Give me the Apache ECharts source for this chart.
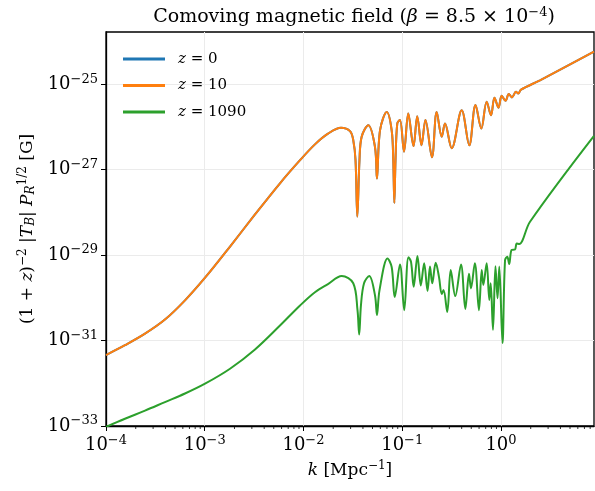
<!DOCTYPE html>
<html><head><meta charset="utf-8">
<script src="https://cdn.jsdelivr.net/npm/echarts@6/dist/echarts.min.js"></script>
<style>html,body{margin:0;padding:0;background:#fff}#c{width:595px;height:491px}</style>
</head><body><div id="c"></div>
<script>
// log10(k / Mpc^-1) and log10(B / G)
const logK_z10 = [-4.000,-3.808,-3.605,-3.403,-3.200,-2.997,-2.744,-2.491,-2.238,-2.035,-1.884,-1.752,-1.620,-1.529,-1.496,-1.473,-1.455,-1.433,-1.411,-1.344,-1.276,-1.256,-1.225,-1.157,-1.107,-1.091,-1.080,-1.068,-1.050,-1.023,-0.982,-0.939,-0.886,-0.848,-0.805,-0.765,-0.699,-0.651,-0.600,-0.567,-0.499,-0.398,-0.321,-0.258,-0.199,-0.145,-0.101,-0.066,-0.025,0.007,0.046,0.079,0.111,0.152,0.175,0.203,0.395,0.942];
const logB_z10 = [-31.34,-31.11,-30.84,-30.51,-30.06,-29.53,-28.80,-28.05,-27.32,-26.78,-26.41,-26.16,-26.02,-26.10,-26.31,-26.78,-28.10,-26.78,-26.23,-25.96,-26.47,-27.21,-26.08,-25.65,-26.08,-26.78,-27.78,-26.78,-25.92,-25.84,-26.58,-25.69,-26.45,-25.75,-26.43,-25.84,-26.71,-25.65,-26.23,-25.92,-26.50,-25.61,-26.43,-25.49,-26.04,-25.41,-25.73,-25.32,-25.55,-25.27,-25.39,-25.23,-25.31,-25.18,-25.22,-25.13,-24.91,-24.24];
// z = 0 coincides with z = 10 everywhere in the picture
const logK_z0 = logK_z10.slice();
const logB_z0 = logB_z10.slice();
const logK_z1090 = [-4.000,-3.808,-3.605,-3.403,-3.200,-2.997,-2.744,-2.491,-2.238,-2.035,-1.884,-1.752,-1.613,-1.496,-1.453,-1.436,-1.418,-1.387,-1.334,-1.276,-1.256,-1.230,-1.149,-1.107,-1.076,-1.023,-0.980,-0.937,-0.911,-0.884,-0.846,-0.812,-0.778,-0.744,-0.719,-0.696,-0.661,-0.628,-0.600,-0.582,-0.544,-0.509,-0.463,-0.405,-0.361,-0.324,-0.304,-0.265,-0.223,-0.195,-0.179,-0.145,-0.118,-0.104,-0.081,-0.056,-0.035,-0.017,0.015,0.041,0.064,0.083,0.108,0.142,0.159,0.185,0.294,0.942];
const logB_z1090 = [-33.02,-32.83,-32.64,-32.44,-32.24,-32.01,-31.66,-31.21,-30.65,-30.18,-29.87,-29.68,-29.49,-29.66,-30.29,-30.86,-30.17,-29.66,-29.49,-29.94,-30.40,-29.82,-29.08,-29.28,-29.98,-29.22,-30.29,-29.05,-29.16,-29.74,-29.02,-29.71,-29.19,-29.84,-29.27,-29.66,-29.18,-29.51,-29.91,-29.82,-30.33,-29.35,-29.96,-29.22,-30.26,-29.44,-29.78,-29.19,-30.29,-29.35,-29.70,-29.19,-30.05,-29.66,-30.75,-29.26,-30.01,-29.27,-31.06,-29.12,-29.04,-29.21,-28.88,-28.87,-28.73,-28.74,-28.22,-26.21];
const seriesNames = ['z = 0','z = 10','z = 1090'];
const xTicks = [-4,-3,-2,-1,0];
const yTicks = [-33,-31,-29,-27,-25];
const xRange = [-4, 0.942];
const yRange = [-33, -23.78];

const minorTicks = [];
for (let n = -4; n <= 0; n++) for (let m = 2; m <= 9; m++) { const v = Math.log10(m * Math.pow(10, n)); if (v < xRange[1]) minorTicks.push(v); }

const SERIF = '"DejaVu Serif", "Liberation Serif", serif';
const pow10 = v => '10{s|' + (v < 0 ? '−' + (-v) : String(v)) + '}';
const supRich = { s: { fontSize: 13, fontFamily: SERIF, color: '#000', padding: [0,0,10,0] } };
const zip = (a, b) => a.map((v, i) => [v, b[i]]);

const chart = echarts.init(document.getElementById('c'), null, { renderer: 'canvas' });
chart.setOption({
  animation: false,
  backgroundColor: '#fff',
  title: {
    text: 'Comoving magnetic field ({i|β} = 8.5 × 10{s|−4})',
    left: 349, top: 1, textAlign: 'center',
    textStyle: { fontFamily: SERIF, fontSize: 19, fontWeight: 'normal', color: '#000',
      rich: { i: { fontFamily: SERIF, fontSize: 19, fontStyle: 'italic', color: '#000' },
              s: { fontFamily: SERIF, fontSize: 13, color: '#000', padding: [0,0,10,0] } } }
  },
  legend: {
    data: seriesNames, orient: 'vertical', left: 118, top: 45,
    icon: 'rect', itemWidth: 42, itemHeight: 3, itemGap: 8.5,
    formatter: n => '{i|z}' + n.slice(1),
    textStyle: { fontFamily: SERIF, fontSize: 15, color: '#000', lineHeight: 18, padding: [0,0,0,8],
      rich: { i: { fontFamily: SERIF, fontSize: 15, fontStyle: 'italic', color: '#000' } } }
  },
  grid: { left: 106, right: 1, top: 32, bottom: 65, show: true, borderColor: '#000', borderWidth: 1.3, backgroundColor: 'transparent' },
  xAxis: {
    type: 'value', min: xRange[0], max: xRange[1],
    name: '{i|k} [Mpc{s|−1}]', nameLocation: 'middle', nameGap: 30,
    nameTextStyle: { fontFamily: SERIF, fontSize: 17, color: '#000',
      rich: { i: { fontFamily: SERIF, fontSize: 17, fontStyle: 'italic', color: '#000' }, s: { fontSize: 12, fontFamily: SERIF, color: '#000', padding: [0,0,10,0] } } },
    axisLine: { show: true, onZero: false, lineStyle: { color: '#000', width: 1.3 } },
    axisTick: { show: true, customValues: xTicks, length: 5, lineStyle: { color: '#000', width: 1 } },
    axisLabel: { customValues: xTicks, formatter: pow10, fontFamily: SERIF, fontSize: 18, color: '#000', margin: 8, rich: supRich },
    splitLine: { show: true, lineStyle: { color: '#ebebeb', width: 1 } }
  },
  yAxis: {
    type: 'value', min: yRange[0], max: yRange[1],
    name: '(1 + {i|z}){s|−2} |{i|T}{b|B}| {i|P}{b|R}{s|1/2} [G]', nameLocation: 'middle', nameGap: 62, nameRotate: 90,
    nameTextStyle: { fontFamily: SERIF, fontSize: 17, color: '#000',
      rich: { i: { fontFamily: SERIF, fontSize: 17, fontStyle: 'italic', color: '#000' },
              s: { fontSize: 12, fontFamily: SERIF, color: '#000', padding: [0,0,10,0] },
              b: { fontSize: 12, fontFamily: SERIF, fontStyle: 'italic', color: '#000', padding: [6,0,0,0] } } },
    axisLine: { show: true, onZero: false, lineStyle: { color: '#000', width: 1.3 } },
    axisTick: { show: true, customValues: yTicks, length: 5, lineStyle: { color: '#000', width: 1 } },
    axisLabel: { customValues: yTicks, formatter: pow10, fontFamily: SERIF, fontSize: 18, color: '#000', margin: 8, rich: supRich },
    splitLine: { show: true, lineStyle: { color: '#ebebeb', width: 1 } }
  },
  series: [
    { name: seriesNames[0], type: 'line', data: zip(logK_z0, logB_z0), showSymbol: false, smooth: 0.35, color: '#1f77b4', lineStyle: { width: 2 } },
    { name: seriesNames[1], type: 'line', data: zip(logK_z10, logB_z10), showSymbol: false, smooth: 0.35, color: '#ff7f0e', lineStyle: { width: 2 } },
    { name: seriesNames[2], type: 'line', data: zip(logK_z1090, logB_z1090), showSymbol: false, smooth: 0.35, color: '#2ca02c', lineStyle: { width: 2 } },
    { type: 'custom', silent: true, clip: false, z: 10, data: minorTicks.map(v => [v, yRange[0]]),
      renderItem: (params, api) => { const p = api.coord([api.value(0), yRange[0]]);
        return { type: 'line', shape: { x1: p[0], y1: p[1], x2: p[0], y2: p[1] + 3 }, style: { stroke: '#000', lineWidth: 0.8 } }; } }
  ]
});
</script></body></html>
